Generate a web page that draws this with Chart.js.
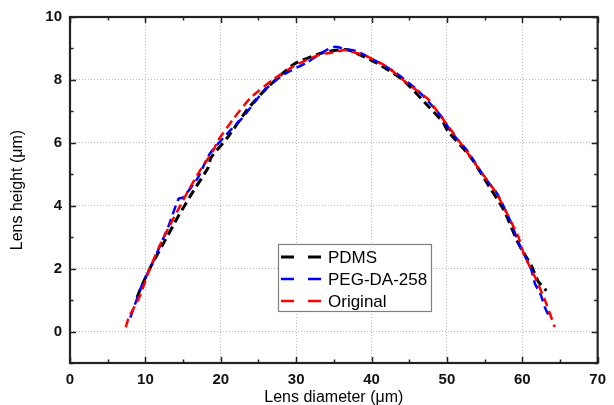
<!DOCTYPE html>
<html><head><meta charset="utf-8">
<script src="https://cdn.jsdelivr.net/npm/chart.js@4.4.1/dist/chart.umd.min.js"></script>
<style>html,body{margin:0;padding:0;background:#fff}canvas{display:block}</style>
</head><body>
<canvas id="c" width="614" height="405"></canvas>
<script>
const seriesNames = ["PDMS", "PEG-DA-258", "Original"];
const seriesColors = ["#000000", "#0000ff", "#ff0000"];
const pdmsX = [8.9, 9.6, 10.9, 12.6, 14.4, 16.4, 18.3, 18.7, 20.9, 23.6, 26.2, 29.7, 33.6, 36.6, 37.5, 40.6, 44.3, 47.5, 49.5, 50.1, 53.2, 55.4, 57.6, 59.3, 60.2, 61.2, 62.1, 63.2];
const pdmsY = [1.09, 1.5, 2.15, 2.89, 3.68, 4.48, 5.2, 5.53, 6.17, 7.08, 7.76, 8.5, 8.87, 8.97, 8.9, 8.55, 7.97, 7.17, 6.65, 6.38, 5.53, 4.69, 3.84, 2.89, 2.5, 2.1, 1.6, 1.3];
const pegX = [8.0, 9.6, 10.9, 13.1, 14.4, 15.0, 17.0, 18.5, 21.4, 22.9, 25.7, 28.4, 31.4, 33.8, 35.1, 36.5, 37.9, 40.6, 43.2, 46.2, 49.3, 50.6, 52.7, 55.0, 56.7, 58.4, 59.75, 61.1, 61.7, 62.4, 63.0, 63.5];
const pegY = [0.44, 1.51, 2.15, 3.37, 4.22, 4.26, 4.9, 5.64, 6.43, 6.8, 7.65, 8.18, 8.55, 8.92, 9.05, 8.98, 8.92, 8.6, 8.23, 7.65, 6.83, 6.33, 5.75, 4.9, 4.37, 3.52, 2.68, 2.04, 1.51, 1.2, 0.77, 0.51];
const origX = [7.4, 7.8, 9.2, 10.5, 11.8, 13.1, 14.4, 15.7, 17.2, 19.0, 19.6, 21.8, 24.0, 27.0, 29.7, 33.1, 35.5, 36.5, 39.25, 41.9, 44.9, 47.5, 48.2, 51.9, 54.1, 56.5, 58.0, 59.5, 60.2, 61.9, 63.2, 64.3];
const origY = [0.13, 0.45, 1.09, 1.94, 2.68, 3.31, 3.9, 4.48, 5.1, 5.75, 6.06, 6.8, 7.44, 8.02, 8.44, 8.8, 8.9, 8.95, 8.76, 8.44, 7.86, 7.39, 7.17, 5.96, 5.22, 4.42, 3.74, 3.0, 2.47, 1.62, 0.88, 0.14];
const xTicks = [0, 10, 20, 30, 40, 50, 60, 70];
const yTicks = [0, 2, 4, 6, 8, 10];
const xTitle = "Lens diameter (μm)";
const yTitle = "Lens height (μm)";

const FONT = "'Liberation Sans', Arial, sans-serif";
const toPts = (xs, ys) => xs.map((x, i) => ({x: x, y: ys[i]}));
const allX = [pdmsX, pegX, origX];
const allY = [pdmsY, pegY, origY];
const orders = [2, 1, 0];
const datasets = seriesNames.map((n, i) => ({
  label: n,
  data: toPts(allX[i], allY[i]),
  borderColor: seriesColors[i],
  backgroundColor: seriesColors[i],
  borderWidth: i === 0 ? 3 : 2.5,
  borderDash: [9, 5],
  pointRadius: 0,
  showLine: true,
  tension: 0.2,
  fill: false,
  order: orders[i]
}));

const framePlugin = {
  id: 'frame',
  afterDatasetsDraw(chart) {
    const {ctx, chartArea: a, scales} = chart;
    ctx.save();
    ctx.strokeStyle = '#222';
    ctx.lineWidth = 1.5;
    const xs = scales.x, ys = scales.y;
    ctx.beginPath();
    for (let v = 0; v <= 70; v += 5) {
      const p = Math.round(xs.getPixelForValue(v)) + 0.5;
      const len = (v % 10 === 0) ? 6 : 3.5;
      ctx.moveTo(p, a.bottom); ctx.lineTo(p, a.bottom - len);
      ctx.moveTo(p, a.top); ctx.lineTo(p, a.top + len);
    }
    for (let v = -1; v <= 10; v += 1) {
      const p = Math.round(ys.getPixelForValue(v)) + 0.5;
      const len = (v % 2 === 0) ? 6 : 3.5;
      ctx.moveTo(a.left, p); ctx.lineTo(a.left + len, p);
      ctx.moveTo(a.right, p); ctx.lineTo(a.right - len, p);
    }
    ctx.stroke();
    ctx.lineWidth = 2.2;
    ctx.strokeRect(a.left, a.top, a.right - a.left, a.bottom - a.top);
    ctx.restore();
  },
  afterDraw(chart) {
    const {ctx} = chart;
    ctx.save();
    const bx = 278, by = 244, bw = 153, bh = 67;
    ctx.fillStyle = '#fff';
    ctx.fillRect(bx, by, bw, bh);
    ctx.strokeStyle = '#808080';
    ctx.lineWidth = 1.2;
    ctx.strokeRect(bx + 0.5, by + 0.5, bw, bh);
    const rows = [257, 279, 301];
    ctx.font = "17px " + FONT;
    ctx.textBaseline = 'middle';
    seriesNames.forEach((n, i) => {
      ctx.strokeStyle = seriesColors[i];
      ctx.lineWidth = i === 0 ? 3 : 2.5;
      ctx.setLineDash([13, 14]);
      ctx.beginPath();
      ctx.moveTo(281, rows[i]); ctx.lineTo(322, rows[i]);
      ctx.stroke();
      ctx.setLineDash([]);
      ctx.fillStyle = '#000';
      ctx.fillText(n, 328, rows[i] + 1);
    });
    ctx.restore();
  }
};

new Chart(document.getElementById('c'), {
  type: 'scatter',
  data: {datasets},
  plugins: [framePlugin],
  options: {
    responsive: false,
    animation: false,
    devicePixelRatio: 1,
    layout: {padding: {top: 17, right: 9, left: 0, bottom: 0}},
    plugins: {legend: {display: false}, tooltip: {enabled: false}},
    scales: {
      x: {
        type: 'linear', min: 0, max: 70,
        afterBuildTicks: s => { s.ticks = xTicks.map(v => ({value: v})); },
        afterFit: s => { s.height = 42; },
        grid: {color: '#b8b8b8', lineWidth: 1, drawTicks: false},
        border: {display: false, dash: [1, 2]},
        ticks: {padding: 8, color: '#111', font: {family: FONT, size: 15, weight: 'bold'}, maxRotation: 0},
        title: {display: true, text: xTitle, color: '#000', font: {family: FONT, size: 16}, padding: {top: 0, bottom: -2}}
      },
      y: {
        type: 'linear', min: -1, max: 10,
        afterBuildTicks: s => { s.ticks = yTicks.map(v => ({value: v})); },
        afterFit: s => { s.width = 70; },
        grid: {color: '#b8b8b8', lineWidth: 1, drawTicks: false},
        border: {display: false, dash: [1, 2]},
        ticks: {padding: 8, color: '#111', font: {family: FONT, size: 15, weight: 'bold'}},
        title: {display: true, text: yTitle, color: '#000', font: {family: FONT, size: 16}, padding: {top: 8, bottom: 0}}
      }
    }
  }
});
</script>
</body></html>
